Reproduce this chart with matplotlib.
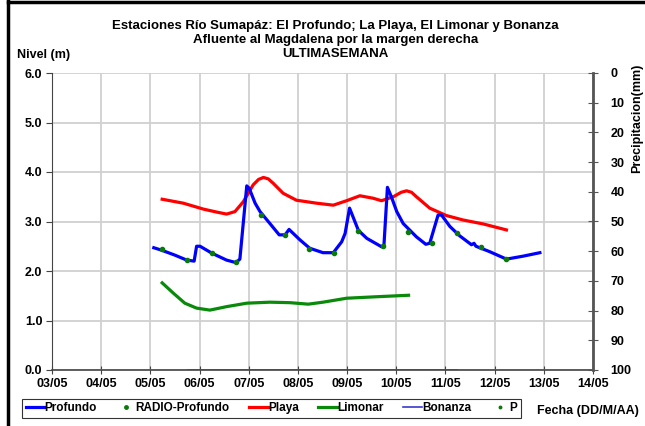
import numpy as np
import matplotlib
matplotlib.use("Agg")
import matplotlib.pyplot as plt
from matplotlib.lines import Line2D

plt.rcParams['font.family'] = ['Liberation Sans', 'DejaVu Sans']
plt.rcParams['font.weight'] = 'bold'
plt.rcParams['font.size'] = 9

# dias de mayo (fraccion de dia)
prof_x = [5.07, 5.23, 5.50, 5.74, 5.89, 5.94, 6.01, 6.25, 6.55, 6.74, 6.82, 6.96, 7.01, 7.13,
          7.23, 7.43, 7.62, 7.74, 7.82, 8.04, 8.24, 8.51, 8.72, 8.89, 8.96, 9.05, 9.23, 9.40,
          9.70, 9.75, 9.82, 9.90, 10.01, 10.14, 10.41, 10.60, 10.68, 10.85, 10.92, 11.09,
          11.29, 11.53, 11.58, 11.62, 11.90, 12.24, 12.58, 12.92]
prof_y = [2.47, 2.42, 2.32, 2.22, 2.20, 2.50, 2.50, 2.36, 2.22, 2.17, 2.24, 3.72, 3.67, 3.37,
          3.20, 2.96, 2.73, 2.73, 2.84, 2.63, 2.46, 2.37, 2.37, 2.59, 2.76, 3.27, 2.82, 2.66,
          2.49, 2.53, 3.69, 3.50, 3.20, 2.96, 2.69, 2.54, 2.56, 3.13, 3.13, 2.90,
          2.71, 2.53, 2.56, 2.50, 2.39, 2.24, 2.30, 2.37]

radio_x = [5.23, 5.74, 6.25, 6.74, 7.24, 7.74, 8.23, 8.73, 9.23, 9.73, 10.23, 10.73, 11.23, 11.73, 12.23]
radio_y = [2.45, 2.22, 2.36, 2.19, 3.13, 2.72, 2.45, 2.36, 2.81, 2.51, 2.79, 2.56, 2.76, 2.49, 2.24]

playa_x = [5.24, 5.67, 6.08, 6.35, 6.55, 6.72, 6.89, 7.09, 7.20, 7.30, 7.40, 7.50, 7.70, 7.97,
           8.38, 8.72, 8.99, 9.26, 9.53, 9.70, 9.94, 10.10, 10.21, 10.31, 10.41, 10.68, 11.02,
           11.36, 11.77, 12.24]
playa_y = [3.45, 3.37, 3.25, 3.19, 3.15, 3.20, 3.40, 3.74, 3.85, 3.89, 3.86, 3.77, 3.57, 3.43,
           3.37, 3.33, 3.42, 3.52, 3.47, 3.42, 3.50, 3.59, 3.62, 3.59, 3.50, 3.27, 3.12,
           3.03, 2.95, 2.83]

limonar_x = [5.24, 5.47, 5.70, 5.94, 6.21, 6.55, 6.96, 7.43, 7.84, 8.21, 8.51, 8.99, 9.60, 10.25]
limonar_y = [1.76, 1.55, 1.35, 1.25, 1.21, 1.28, 1.35, 1.37, 1.36, 1.33, 1.37, 1.45, 1.48, 1.51]

bonanza_x = [5.76, 11.23]
bonanza_y = [0.0, 0.0]

p_x = []
p_y = []

day_ticks = list(range(3, 15))
day_labels = ['%02d/05' % d for d in day_ticks]

fig = plt.figure(figsize=(6.45, 4.26), dpi=100)
ax = fig.add_axes([52 / 645, 1 - 370 / 426, 541 / 645, 297 / 426])

ax.grid(True, color='#d0d0d0', linewidth=1.3)
ax.set_axisbelow(True)

ax.plot(bonanza_x, bonanza_y, color='#3a3acc', linewidth=1.2, zorder=3)
ax.plot(limonar_x, limonar_y, color='#0a8a0a', linewidth=2.3, zorder=3, solid_joinstyle='round')
ax.plot(playa_x, playa_y, color='#ff0000', linewidth=2.3, zorder=3, solid_joinstyle='round')
ax.plot(prof_x, prof_y, color='#0000ff', linewidth=2.3, zorder=4, solid_joinstyle='round')
ax.plot(radio_x, radio_y, 'o', color='#0a7a0a', markersize=3, zorder=5)

ax.set_xlim(3, 14)
ax.set_ylim(0, 6)
ax.set_xticks(day_ticks)
ax.set_xticklabels(day_labels)
ax.set_yticks(np.arange(0, 6.1, 1))
ax.set_yticklabels(['%.1f' % v for v in np.arange(0, 6.1, 1)])
ax.tick_params(axis='x', direction='inout', length=6, pad=3, color='#444444')
ax.tick_params(axis='y', direction='out', length=4, pad=3, color='#444444')
for s in ['top', 'right']:
    ax.spines[s].set_visible(False)
ax.spines['left'].set_color('#444444')
ax.spines['bottom'].set_color('#444444')
ax.spines['bottom'].set_linewidth(1.2)

ax2 = ax.twinx()
ax2.plot(p_x, p_y, 'o', color='#0a7a0a', markersize=2)
ax2.set_ylim(100, 0)
ax2.set_yticks(range(0, 101, 10))
ax2.tick_params(axis='y', direction='inout', length=7, pad=9, color='#555555')
for s in ['top', 'left', 'bottom']:
    ax2.spines[s].set_visible(False)
ax2.spines['right'].set_color('#555555')
ax2.spines['right'].set_linewidth(2)

fig.text(637 / 645, 1 - 118 / 426, 'Precipitacion(mm)', rotation=90,
         ha='center', va='center', fontsize=9, fontweight='bold')
fig.text(0.52, 1 - 26 / 426, 'Estaciones Río Sumapáz: El Profundo; La Playa, El Limonar y Bonanza',
         ha='center', va='center', fontsize=9.5, fontweight='bold')
fig.text(0.52, 1 - 40 / 426, 'Afluente al Magdalena por la margen derecha',
         ha='center', va='center', fontsize=9.5, fontweight='bold')
fig.text(0.52, 1 - 54 / 426, 'ULTIMASEMANA',
         ha='center', va='center', fontsize=9.5, fontweight='bold')
fig.text(17 / 645, 1 - 55 / 426, 'Nivel (m)', ha='left', va='center', fontsize=9, fontweight='bold')
fig.text(537 / 645, 1 - 411 / 426, 'Fecha (DD/M/AA)', ha='left', va='center', fontsize=9, fontweight='bold')

handles = [
    Line2D([], [], color='#0000ff', linewidth=2.3),
    Line2D([], [], color='#0a7a0a', marker='o', linestyle='none', markersize=2.5),
    Line2D([], [], color='#ff0000', linewidth=2.3),
    Line2D([], [], color='#0a8a0a', linewidth=2.3),
    Line2D([], [], color='#3a3acc', linewidth=1.2),
    Line2D([], [], color='#0a7a0a', marker='o', linestyle='none', markersize=1.8),
]
labels = ['Profundo', 'RADIO-Profundo', 'Playa', 'Limonar', 'Bonanza', 'P']
leg = fig.legend(handles, labels, loc='lower left', ncol=6,
                 bbox_to_anchor=(22 / 645, 1 - 418 / 426, 499 / 645, 18 / 426), mode='expand',
                 frameon=True, fancybox=False, shadow=False, fontsize=8.5,
                 handlelength=1.6, handletextpad=0.0, columnspacing=0.5, borderpad=0.3,
                 borderaxespad=0)
leg.get_frame().set_edgecolor('black')
leg.get_frame().set_linewidth(0.8)

# marco negro superior e izquierdo
fig.add_artist(Line2D([8 / 645, 8 / 645], [0, 1], color='black', linewidth=2.5))
fig.add_artist(Line2D([8 / 645, 1], [1 - 2 / 426, 1 - 2 / 426], color='black', linewidth=2.5))

fig.savefig('out.png', dpi=100)
